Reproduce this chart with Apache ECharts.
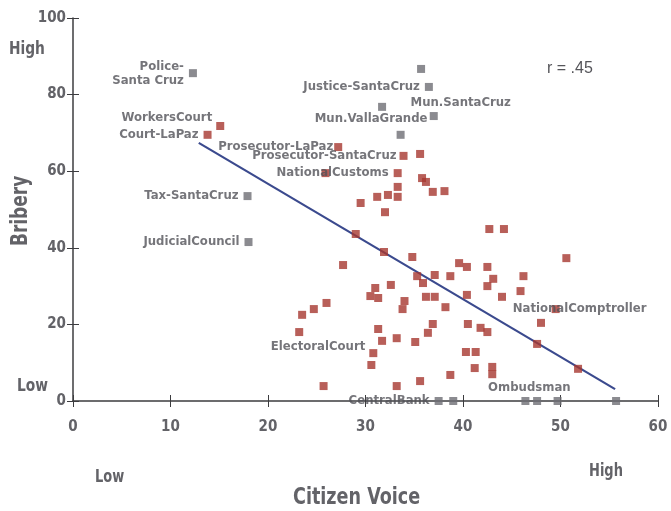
<!DOCTYPE html>
<html>
<head>
<meta charset="utf-8">
<script src="https://cdn.jsdelivr.net/npm/echarts@6/dist/echarts.min.js"></script>
<style>
  html, body { margin: 0; padding: 0; background: #ffffff; }
  #chart { width: 671px; height: 511px; }
</style>
</head>
<body>
<div id="chart"></div>
<script>
// Citizen voice (x) against reported bribery (y) for public agencies

// Named agencies (grey markers)
const namedAgencies = ['Police-\nSanta Cruz', 'Justice-SantaCruz', '', 'Mun.SantaCruz', 'Mun.VallaGrande', '',
  'Tax-SantaCruz', 'JudicialCouncil', 'CentralBank', '', 'Ombudsman', '', '', ''];
const namedVoice = [12.3, 36.5, 35.7, 37.0, 31.7, 33.6, 17.9, 18.0, 37.5, 39.0, 46.4, 47.6, 49.7, 55.7];
const namedBribery = [85.6, 82.0, 86.7, 74.4, 76.8, 69.5, 53.5, 41.5, 0, 0, 0, 0, 0, 0];

// Other agencies (red markers)
const otherAgencies = ['WorkersCourt', 'Court-LaPaz', 'Prosecutor-LaPaz', 'Prosecutor-SantaCruz', 'NationalCustoms',
  'ElectoralCourt', 'NationalComptroller'];
const otherVoice = [15.1, 13.8, 27.2, 33.9, 33.3, 30.8, 49.5,
  35.6, 25.9, 35.8, 36.2, 33.3, 36.9, 38.1, 31.2, 32.3, 33.3, 29.5, 32.0, 29.0, 42.7, 44.2,
  31.9, 34.8, 27.7, 39.6, 40.4, 42.5, 46.2, 35.3, 37.1, 38.7, 43.1, 35.9, 42.5, 31.0, 32.6,
  30.5, 31.3, 36.2, 37.1, 40.4, 44.0, 45.9, 34.0, 26.0, 24.7, 38.2, 33.8, 23.5, 23.2, 31.3,
  33.2, 31.7, 35.1, 36.4, 36.9, 40.5, 41.8, 42.5, 48.0, 47.6, 51.8, 30.6, 40.3, 41.3, 41.2,
  43.0, 43.0, 38.7, 35.6, 33.2, 25.7, 50.6];
const otherBribery = [71.8, 69.5, 66.3, 64.0, 59.5, 12.5, 24.0,
  64.5, 59.5, 58.2, 57.2, 55.9, 54.6, 54.8, 53.3, 53.8, 53.3, 51.7, 49.3, 43.6, 44.9, 44.9,
  38.9, 37.6, 35.5, 36.0, 35.0, 35.0, 32.6, 32.6, 32.9, 32.6, 31.9, 30.8, 30.0, 29.5, 30.3,
  27.4, 26.9, 27.2, 27.2, 27.7, 27.2, 28.7, 26.1, 25.6, 24.0, 24.5, 24.0, 22.5, 18.0, 18.8,
  16.4, 15.7, 15.4, 17.8, 20.1, 20.1, 19.1, 18.0, 20.4, 14.9, 8.4, 9.4, 12.8, 12.8, 8.6,
  8.9, 7.0, 6.8, 5.2, 3.9, 3.9, 37.3];

// Fitted line end points
const fitVoice = [12.9, 55.6];
const fitBribery = [67.4, 3.1];

// Axis ticks
const voiceTicks = [0, 10, 20, 30, 40, 50, 60];
const briberyTicks = [0, 20, 40, 60, 80, 100];

const FONT = '"Liberation Sans Narrow", "DejaVu Sans Condensed", sans-serif';
const TEXT = '#535359';
const TITLE = '#636368';
const RED = '#a6372f';
const GREY = '#6e6e74';

// Label placement for individual agencies
const labelPlace = {
  'Mun.SantaCruz': { position: 'inside', offset: [27, -13] },
  'Mun.VallaGrande': { position: 'inside', offset: [-11, 12] },
  'CentralBank': { position: 'left', distance: 5 },
  'Ombudsman': { position: 'top', distance: 2, offset: [4, 0] },
  'WorkersCourt': { position: 'left', distance: 4, offset: [0, -8] },
  'ElectoralCourt': { position: 'left', distance: 4, offset: [0, -7] },
  'NationalComptroller': { position: 'inside', offset: [24, 0] },
  'Prosecutor-LaPaz': { position: 'left', distance: 1 },
  'Prosecutor-SantaCruz': { position: 'left', distance: 3 }
};

function points(xs, ys, names) {
  return xs.map((x, i) => {
    const name = names[i] || '';
    const p = { value: [x, ys[i]], name: name };
    if (name) {
      const place = labelPlace[name] || { position: 'left', distance: 5 };
      p.label = Object.assign({ show: true }, place);
    }
    return p;
  });
}

const labelStyle = {
  show: false,
  formatter: p => p.name,
  fontFamily: FONT,
  fontWeight: 'bold',
  fontSize: 13,
  color: TEXT,
  lineHeight: 14
};

const chart = echarts.init(document.getElementById('chart'), null, { renderer: 'canvas' });

const axisLabelFont = { fontFamily: FONT, fontWeight: 'bold', fontSize: 15, color: TITLE };
const axisLineStyle = { color: '#3c3c3f', width: 1.5 };

function title(text, x, y, size, sx, extra) {
  return Object.assign({
    type: 'text', x: x, y: y, scaleX: sx,
    style: { text: text, font: 'bold ' + size + 'px ' + FONT, fill: TITLE, align: 'left', verticalAlign: 'top' }
  }, extra || {});
}

chart.setOption({
  animation: false,
  backgroundColor: '#ffffff',
  grid: { left: 73, right: 13, top: 18, bottom: 110, containLabel: false },
  xAxis: [{
    type: 'value', min: 0, max: 60, interval: 10,
    axisLine: { show: true, lineStyle: axisLineStyle },
    axisTick: { show: true, length: 6, lineStyle: { color: '#3c3c3f' } },
    axisLabel: Object.assign({ margin: 19, formatter: v => voiceTicks.includes(v) ? String(v) : '' }, axisLabelFont),
    splitLine: { show: false }
  }, {
    type: 'value', min: 0, max: 60, interval: 10, position: 'bottom',
    axisLine: { show: false },
    axisTick: { show: true, inside: true, length: 6, lineStyle: { color: '#3c3c3f' } },
    axisLabel: { show: false },
    splitLine: { show: false }
  }],
  yAxis: [{
    type: 'value', min: 0, max: 100, interval: 20,
    axisLine: { show: true, lineStyle: axisLineStyle },
    axisTick: { show: true, length: 6, lineStyle: { color: '#3c3c3f' } },
    axisLabel: Object.assign({ margin: 7, formatter: v => briberyTicks.includes(v) ? String(v) : '' }, axisLabelFont),
    splitLine: { show: false }
  }, {
    type: 'value', min: 0, max: 100, interval: 20, position: 'left',
    axisLine: { show: false },
    axisTick: { show: true, inside: true, length: 6, lineStyle: { color: '#3c3c3f' } },
    axisLabel: { show: false },
    splitLine: { show: false }
  }],
  series: [{
    type: 'line',
    data: fitVoice.map((x, i) => [x, fitBribery[i]]),
    symbol: 'none',
    lineStyle: { color: '#3b4a8e', width: 2.2 },
    z: 1
  }, {
    type: 'scatter',
    data: points(otherVoice, otherBribery, otherAgencies),
    symbol: 'rect', symbolSize: 8,
    itemStyle: { color: RED },
    label: labelStyle,
    z: 3
  }, {
    type: 'scatter',
    data: points(namedVoice, namedBribery, namedAgencies),
    symbol: 'rect', symbolSize: 8,
    itemStyle: { color: GREY },
    label: labelStyle,
    z: 4
  }],
  graphic: [
    title('High', 9, 41, 17, 0.9),
    title('Low', 17, 378, 17, 0.9),
    title('Low', 95, 469, 17, 0.85),
    title('High', 589, 463, 17, 0.85),
    title('Citizen Voice', 293, 487, 23, 0.85),
    title('Bribery', 10, 246, 23, 0.82, { rotation: Math.PI / 2 }),
    { type: 'text', x: 547, y: 61,
      style: { text: 'r = .45', font: '16px "Liberation Sans", Arial, sans-serif', fill: '#55555a', align: 'left', verticalAlign: 'top' } }
  ]
});
</script>
</body>
</html>
